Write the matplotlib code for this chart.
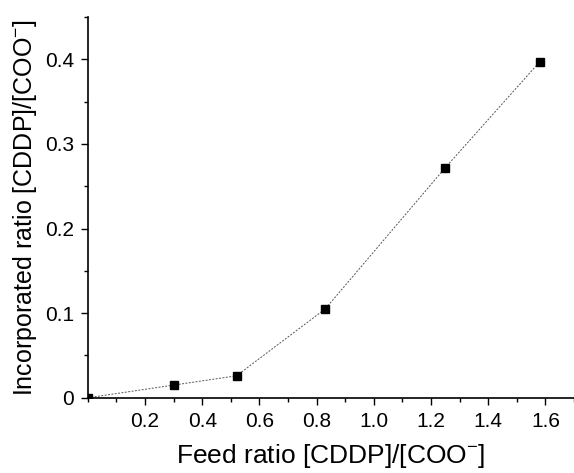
import matplotlib
matplotlib.use('Agg')
import matplotlib.pyplot as plt
from matplotlib.ticker import MultipleLocator, FixedLocator

plt.rcParams['font.family'] = ['Liberation Sans', 'DejaVu Sans']

# данные
feed = [0.0, 0.30, 0.52, 0.83, 1.25, 1.58]
incorporated = [0.0, 0.015, 0.026, 0.105, 0.272, 0.397]
x_ticks = [0.2, 0.4, 0.6, 0.8, 1.0, 1.2, 1.4, 1.6]
y_ticks = [0, 0.1, 0.2, 0.3, 0.4]

fig = plt.figure(figsize=(5.74, 4.73), dpi=100)
ax = fig.add_axes([0.153, 0.159, 0.847, 0.805])

ax.plot(feed, incorporated, color='#555555', linestyle=(0, (2, 1.5)), linewidth=0.7)
ax.plot(feed, incorporated, linestyle='none', marker='s', markersize=5.5, color='black')

ax.set_xlim(0, 1.70)
ax.set_ylim(0, 0.45)
ax.xaxis.set_major_locator(FixedLocator(x_ticks))
ax.xaxis.set_minor_locator(MultipleLocator(0.1))
ax.yaxis.set_major_locator(FixedLocator(y_ticks))
ax.yaxis.set_minor_locator(MultipleLocator(0.05))
ax.set_xticklabels([f'{v:.1f}' for v in x_ticks])
ax.set_yticklabels(['0', '0.1', '0.2', '0.3', '0.4'])

for s in ['top', 'right']:
    ax.spines[s].set_visible(False)
ax.spines['left'].set_linewidth(1.2)
ax.spines['bottom'].set_linewidth(1.2)
ax.tick_params(which='major', direction='out', length=5, width=1, labelsize=15, pad=5)
ax.tick_params(which='minor', direction='out', length=3, width=1)

ax.set_xlabel('Feed ratio [CDDP]/[COO$^{\\mathregular{-}}$]', fontsize=19, labelpad=8)
ax.set_ylabel('Incorporated ratio [CDDP]/[COO$^{\\mathregular{-}}$]', fontsize=18, labelpad=4)

fig.savefig('out.png', dpi=100)
